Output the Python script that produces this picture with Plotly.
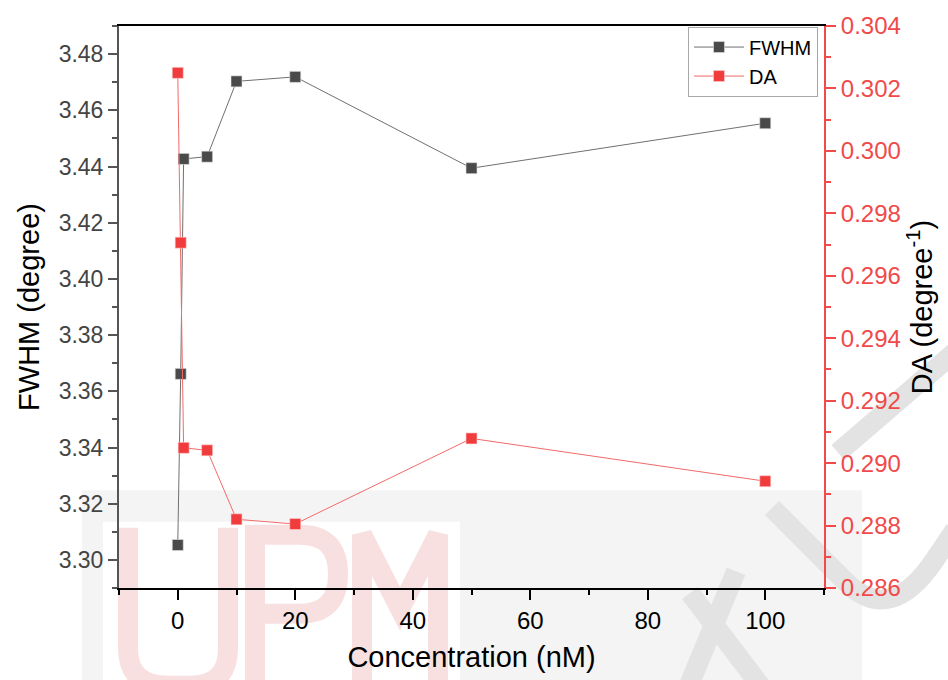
import plotly.graph_objects as go

# Concentration series (nM)
concentration = [0, 0.5, 1, 5, 10, 20, 50, 100]

# Peak width (degree) and its reciprocal-type DA value (degree^-1)
fwhm = [3.3053, 3.3662, 3.4427, 3.4435, 3.4703, 3.4719, 3.4394, 3.4554]
da = [0.3025, 0.29706, 0.29049, 0.29041, 0.28820, 0.28805, 0.29079, 0.28942]

x_ticks = [0, 20, 40, 60, 80, 100]

DARK = "#4a4a4a"
RED = "#f03c3c"
AXIS_RED = "#f04a4a"
FONT = "Liberation Sans, Arial, sans-serif"

W, H = 948, 680
ML, MR, MT, MB = 119, 124, 20, 91


def px_x(px):
    """Page pixel column -> paper x."""
    return (px - ML) / (W - ML - MR)


def px_y(py):
    """Page pixel row -> paper y."""
    return (H - MB - py) / (H - MT - MB)


def path(cmds):
    """Build an SVG path in paper units from (command, [(px, py), ...]) steps."""
    out = []
    for cmd, pts in cmds:
        coords = " ".join(f"{px_x(x):.5f},{px_y(y):.5f}" for x, y in pts)
        out.append(f"{cmd}{coords}")
    return " ".join(out)


fig = go.Figure()

fig.add_trace(go.Scatter(
    x=concentration, y=fwhm, name="FWHM",
    mode="lines+markers",
    line=dict(color="#707070", width=1),
    marker=dict(symbol="square", size=11, color=DARK,
                line=dict(color="#e0e0e0", width=0.6)),
    yaxis="y",
))

fig.add_trace(go.Scatter(
    x=concentration, y=da, name="DA",
    mode="lines+markers",
    line=dict(color="#f26a6a", width=1),
    marker=dict(symbol="square", size=11, color=RED,
                line=dict(color="#fbd0d0", width=0.6)),
    yaxis="y2",
))

# faint repository watermark behind the chart
fig.add_shape(type="rect", xref="paper", yref="paper", layer="below",
              x0=px_x(82), x1=px_x(862), y0=px_y(490), y1=px_y(H + 5),
              fillcolor="#f4f4f4", line=dict(width=0))
fig.add_shape(type="rect", xref="paper", yref="paper", layer="below",
              x0=px_x(103), x1=px_x(460), y0=px_y(522), y1=px_y(H + 5),
              fillcolor="white", line=dict(width=0))

PINK = "#f9e0e0"
logo_strokes = [
    # U
    [("M", [(128, 528)]), ("L", [(128, 650)]),
     ("Q", [(128, 688), (168, 688)]), ("L", [(190, 688)]),
     ("Q", [(228, 688), (228, 650)]), ("L", [(228, 528)])],
    # P
    [("M", [(255, 690)]), ("L", [(255, 535)]), ("L", [(300, 535)]),
     ("Q", [(338, 535), (338, 575)]), ("Q", [(338, 615), (300, 615)]),
     ("L", [(255, 615)])],
    # M
    [("M", [(362, 690)]), ("L", [(362, 535)]), ("L", [(400, 610)]),
     ("L", [(438, 535)]), ("L", [(438, 690)])],
]
for cmds in logo_strokes:
    fig.add_shape(type="path", xref="paper", yref="paper", layer="below",
                  path=path(cmds), line=dict(color=PINK, width=20))

GREY = "#e3e3e3"
grey_strokes = [
    [("M", [(838, 452)]), ("L", [(955, 350)])],
    [("M", [(772, 508)]), ("L", [(845, 582)]),
     ("Q", [(890, 628), (935, 560)]), ("L", [(955, 530)])],
    [("M", [(688, 690)]), ("L", [(736, 572)])],
    [("M", [(690, 594)]), ("L", [(762, 690)])],
]
for cmds in grey_strokes:
    fig.add_shape(type="path", xref="paper", yref="paper", layer="below",
                  path=path(cmds), line=dict(color=GREY, width=20))

fig.update_layout(
    width=W, height=H,
    margin=dict(l=ML, r=MR, t=MT, b=MB),
    paper_bgcolor="white",
    plot_bgcolor="rgba(0,0,0,0)",
    font=dict(family=FONT, color="black"),
    showlegend=True,
    legend=dict(
        x=0.9915, y=0.999, xanchor="right", yanchor="top",
        bgcolor="white", bordercolor="#a8a8a8", borderwidth=1,
        font=dict(size=20, color="black", family=FONT),
        itemwidth=50, tracegroupgap=0,
    ),
    xaxis=dict(
        range=[-10, 110],
        tickvals=x_ticks,
        ticks="outside", ticklen=10, tickwidth=1.6, tickcolor="black",
        minor=dict(ticks="outside", ticklen=5, tickwidth=1.6, dtick=10,
                   tick0=0, tickcolor="black"),
        showline=True, linecolor="black", linewidth=2, mirror=True,
        showgrid=False, zeroline=False,
        tickfont=dict(size=24, color="black", family=FONT),
        title=dict(text="Concentration (nM)", standoff=14,
                   font=dict(size=29, color="black", family=FONT)),
    ),
    yaxis=dict(
        range=[3.29, 3.49],
        dtick=0.02, tick0=3.30, tickformat=".2f",
        ticks="outside", ticklen=9, tickwidth=1.6, tickcolor="#555555",
        minor=dict(ticks="outside", ticklen=5, tickwidth=1.6, dtick=0.01,
                   tickcolor="#555555"),
        showline=True, linecolor="#555555", linewidth=2,
        showgrid=False, zeroline=False,
        tickfont=dict(size=23, color="#444444", family=FONT),
        title=dict(text="FWHM (degree)", standoff=10,
                   font=dict(size=29, color="black", family=FONT)),
    ),
    yaxis2=dict(
        range=[0.286, 0.304],
        overlaying="y", side="right", anchor="x",
        dtick=0.002, tick0=0.286, tickformat=".3f",
        ticks="outside", ticklen=10, tickwidth=1.6, tickcolor=AXIS_RED,
        minor=dict(ticks="outside", ticklen=5, tickwidth=1.6, dtick=0.001,
                   tickcolor=AXIS_RED),
        showline=True, linecolor=AXIS_RED, linewidth=2,
        showgrid=False, zeroline=False,
        tickfont=dict(size=24, color=AXIS_RED, family=FONT),
        title=dict(text="DA (degree<sup>-1</sup>)", standoff=12,
                   font=dict(size=29, color="black", family=FONT)),
    ),
)

fig.write_html("out.html")
